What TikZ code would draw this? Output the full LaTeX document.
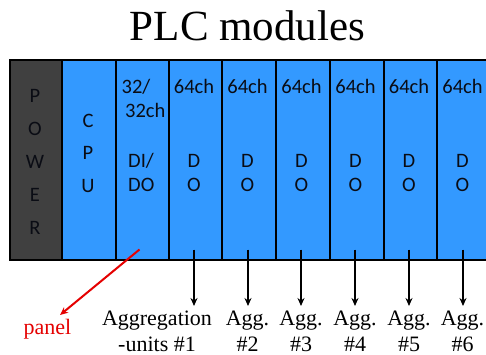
\documentclass[tikz,border=0pt]{standalone}
\usepackage{fontspec}
\setmainfont{Liberation Serif}
\newfontfamily\calib{Carlito}
\usetikzlibrary{arrows.meta}
\definecolor{modblue}{RGB}{51,153,255}
\definecolor{powgray}{RGB}{64,64,64}
\definecolor{txtdark}{RGB}{10,12,20}
\tikzset{
  module/.style={draw=black, line width=2pt, minimum height=200pt, inner sep=0pt, anchor=north west},
  mtxt/.style={font=\calib\fontsize{20.5}{24}\selectfont, text=txtdark, inner sep=0pt, anchor=base},
  lbl/.style={font=\fontsize{22}{26}\selectfont, inner sep=0pt, anchor=base},
  arr/.style={line width=2pt, -{Stealth[length=8pt,width=7pt]}},
  redarr/.style={red!90!black, line width=2pt, -{Stealth[length=8pt,width=7pt]}}
}
\begin{document}
\begin{tikzpicture}[x=1pt,y=-1pt]
\useasboundingbox (0,0) rectangle (486,355);
\fill[white] (0,0) rectangle (486,355);
\begin{scope}
\clip (0,0) rectangle (486,355);
% title
\node[font=\fontsize{43}{48}\selectfont, inner sep=0pt, anchor=base] (title) at (247.5,41) {PLC modules};
% modules
\node[module, fill=powgray, minimum width=52pt] (pow) at (9,59) {};
\node[module, fill=modblue, minimum width=54pt] (cpu) at (61,59) {};
\node[module, fill=modblue, minimum width=53pt] (dido) at (115,59) {};
\foreach \i/\x/\w in {1/168/53,2/221/54,3/275/54,4/329/54,5/383/53,6/436/54}{
  \node[module, fill=modblue, minimum width=\w pt] (do\i) at (\x,59) {};
}
% POWER
\foreach \l/\y [count=\k] in {P/102.3,O/135.5,W/168.8,E/201.7,R/234.5}{
  \node[mtxt] (pw\k) at (35,\y) {\l};
}
% CPU
\foreach \l/\y [count=\k] in {C/127.5,P/160,U/192.3}{
  \node[mtxt] (cp\k) at (88,\y) {\l};
}
% DI/DO
\node[mtxt, anchor=base west] (d1) at (121.5,93.3) {32/};
\node[mtxt, anchor=base west] (d2) at (125,117.8) {32ch};
\node[mtxt, anchor=base west] (d3) at (128,167.7) {DI/};
\node[mtxt, anchor=base west] (d4) at (128,191.7) {DO};
% DO modules
\foreach \i/\x in {1/194,2/247.5,3/301.5,4/355.5,5/409,6/462.5}{
  \node[mtxt] (ch\i) at (\x,93.3) {64ch};
  \node[mtxt] (dd\i) at (\x,167.7) {D};
  \node[mtxt] (oo\i) at (\x,191.7) {O};
}
% labels
\node[lbl, text=red!90!black] (panel) at (47.5,334) {panel};
\coordinate (paneltip) at (60,315);
\coordinate (redstart) at (139.5,249.5);
\draw[redarr] (redstart) -- (paneltip);
\node[lbl] (g1) at (157,325.5) {Aggregation};
\node[lbl] (g1b) at (157,351.5) {-units \#1};
\foreach \i/\x in {2/247.5,3/301,4/355,5/409,6/462.5}{
  \node[lbl] (g\i) at (\x,325.5) {Agg.};
  \node[lbl] (g\i b) at (\x,351.5) {\#\i};
}
\foreach \i/\x in {1/194,2/248,3/301,4/355,5/409,6/463}{
  \coordinate (s\i) at (\x,249.5);
  \coordinate (e\i) at (\x,306);
  \draw[arr] (s\i) -- (e\i);
}
\end{scope}
\end{tikzpicture}
\end{document}
